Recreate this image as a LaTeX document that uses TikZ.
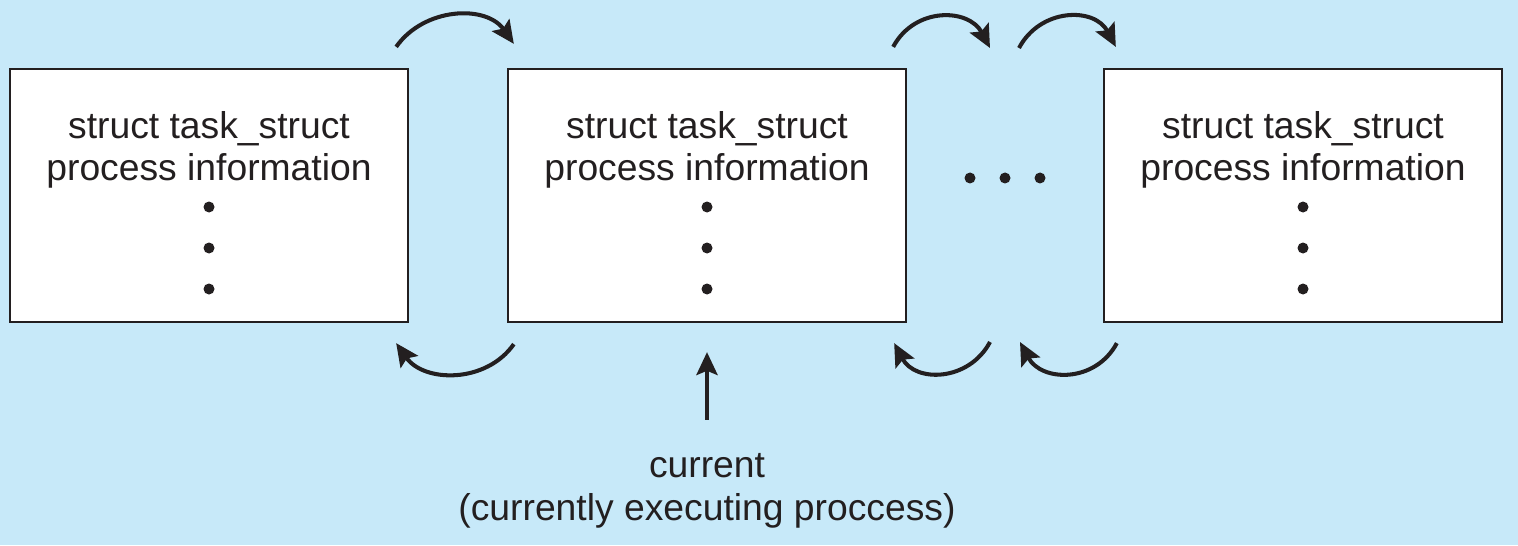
\documentclass[tikz,border=0pt]{standalone}
\usepackage{fontspec}
\setmainfont{Liberation Sans}
\usetikzlibrary{positioning,arrows.meta}

\definecolor{bgblue}{RGB}{199,233,249}
\definecolor{ink}{RGB}{35,31,32}

\tikzset{
	taskbox/.style={draw=ink, fill=white, line width=0.6pt, minimum width=3.98cm, minimum height=2.53cm},
	tasktext/.style={align=center, inner sep=0pt, text=ink, font=\fontsize{10.6}{12}\selectfont},
	arr/.style={draw=ink, line width=1.15pt, -{Stealth[length=6.5pt, width=6pt, inset=1.2pt]}},
}

\begin{document}
\begin{tikzpicture}[x=0.01cm, y=0.01cm]
	\fill[bgblue] (0,0) rectangle (1518,545);
	\useasboundingbox (0,0) rectangle (1518,545);

	\node[taskbox] (t1) at (209,349.5) {};
	\node[taskbox] (t2) at (707,349.5) {};
	\node[taskbox] (t3) at (1303,349.5) {};

	\foreach \t in {t1,t2,t3} {
		\node[tasktext] (\t text) at ([shift={(0,45.5)}]\t.center) {struct task\_struct\\process information};
		\foreach \d in {11.5,52.5,93.5}
			\fill[ink] ([shift={(0,-\d)}]\t.center) circle (5.5);
	}

	\coordinate (gap) at (1005,367);
	\foreach \d in {-35,0,35}
		\fill[ink] ([shift={(\d,0)}]gap) circle (5.5);

	\draw[arr] ([shift={(-13,21)}]t1.north east) to[out=55, in=125, looseness=1.05] ([shift={(7,24)}]t2.north west);
	\draw[arr] ([shift={(-14,21)}]t2.north east) to[out=62, in=118, looseness=1.2] ([shift={(-15,130)}]gap);
	\draw[arr] ([shift={(14,130)}]gap) to[out=62, in=118, looseness=1.2] ([shift={(13,21)}]t3.north west);

	\draw[arr] ([shift={(7,-21)}]t2.south west) to[out=-125, in=-55, looseness=1.05] ([shift={(-13,-20)}]t1.south east);
	\draw[arr] ([shift={(-15,-164)}]gap) to[out=-118, in=-62, looseness=1.2] ([shift={(-13,-20)}]t2.south east);
	\draw[arr] ([shift={(14,-20)}]t3.south west) to[out=-118, in=-62, looseness=1.2] ([shift={(15,-164)}]gap);

	\node[tasktext, font=\fontsize{10.6}{12.4}\selectfont] (cur) at (707,54) {current\\(currently executing proccess)};
	\draw[arr] ([shift={(0,33)}]cur.north) -- ([shift={(0,-29)}]t2.south);

\end{tikzpicture}
\end{document}
